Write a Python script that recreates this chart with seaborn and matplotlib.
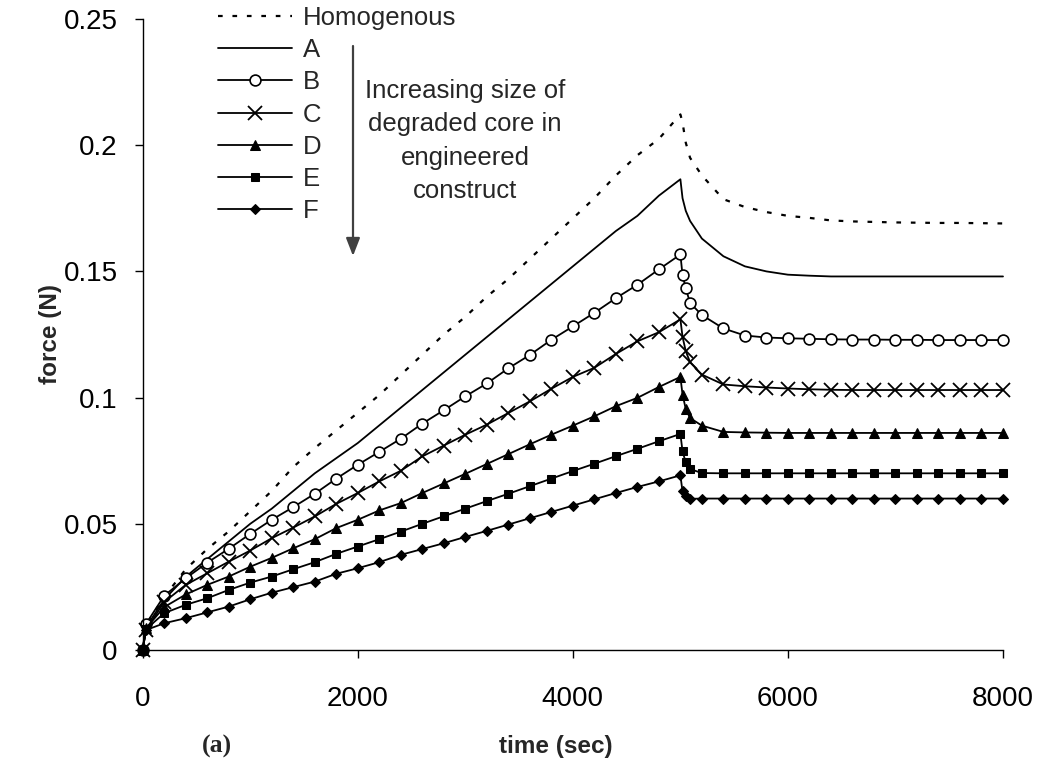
import matplotlib
matplotlib.use("Agg")
import matplotlib.pyplot as plt
import seaborn as sns

# ---------------- data ----------------
time_sec = [0, 30, 200, 400, 600, 800, 1000, 1200, 1400, 1600, 1800, 2000, 2200, 2400, 2600,
            2800, 3000, 3200, 3400, 3600, 3800, 4000, 4200, 4400, 4600, 4800, 5000,
            5020, 5050, 5090, 5200, 5400, 5600, 5800, 6000, 6200, 6400, 6600, 6800,
            7000, 7200, 7400, 7600, 7800, 8000]

homogenous = [0, 0.010, 0.021, 0.032, 0.040, 0.047, 0.055, 0.063, 0.0725, 0.080, 0.087, 0.094,
              0.101, 0.109, 0.117, 0.125, 0.132, 0.140, 0.147, 0.155, 0.163, 0.171, 0.179,
              0.188, 0.196, 0.2025, 0.2122,
              0.209, 0.201, 0.195, 0.188, 0.1786, 0.1755, 0.1735, 0.172, 0.1712, 0.1702,
              0.1698, 0.1696, 0.1694, 0.1693, 0.1692, 0.1692, 0.1691, 0.169]

series_a = [0, 0.009, 0.020, 0.029, 0.036, 0.043, 0.050, 0.056, 0.063, 0.070, 0.076, 0.082,
            0.089, 0.096, 0.103, 0.110, 0.117, 0.124, 0.131, 0.138, 0.145, 0.152, 0.159,
            0.166, 0.172, 0.180, 0.1865,
            0.179, 0.174, 0.170, 0.163, 0.156, 0.152, 0.150, 0.1487, 0.1483, 0.148,
            0.148, 0.148, 0.148, 0.148, 0.148, 0.148, 0.148, 0.148]

series_b = [0, 0.0103, 0.0215, 0.0284, 0.0346, 0.0401, 0.0460, 0.0516, 0.0566, 0.0619, 0.0679,
            0.0734, 0.0785, 0.0837, 0.0897, 0.0950, 0.1005, 0.1056, 0.1116, 0.1169, 0.1229,
            0.1282, 0.1336, 0.1394, 0.1447, 0.1508, 0.1567,
            0.1485, 0.1433, 0.1375, 0.1327, 0.1274, 0.1246, 0.1238, 0.1235, 0.1233, 0.1231,
            0.1230, 0.1230, 0.1229, 0.1229, 0.1228, 0.1228, 0.1228, 0.1228]

series_c = [0, 0.008, 0.019, 0.0258, 0.0304, 0.0350, 0.0394, 0.0443, 0.0485, 0.0529, 0.0579,
            0.0622, 0.0668, 0.0710, 0.0767, 0.0810, 0.0853, 0.0893, 0.0939, 0.0985, 0.1035,
            0.1082, 0.1118, 0.1173, 0.1223, 0.1259, 0.1310,
            0.1241, 0.1184, 0.1140, 0.1091, 0.1052, 0.1045, 0.1040, 0.1036, 0.1033, 0.1031,
            0.1030, 0.1030, 0.1030, 0.1030, 0.1030, 0.1030, 0.1030, 0.1030]

series_d = [0, 0.0086, 0.017, 0.022, 0.0258, 0.0291, 0.0330, 0.0365, 0.0403, 0.0439, 0.0483,
            0.0516, 0.0553, 0.0582, 0.0622, 0.0660, 0.0698, 0.0737, 0.0776, 0.0815, 0.0853,
            0.0889, 0.0926, 0.0966, 0.0999, 0.1042, 0.1082,
            0.1012, 0.0955, 0.0919, 0.0889, 0.0864, 0.0862, 0.0861, 0.0860, 0.0860, 0.0860,
            0.0860, 0.0860, 0.0860, 0.0860, 0.0860, 0.0860, 0.0860, 0.0860]

series_e = [0, 0.0082, 0.0146, 0.0179, 0.0205, 0.0238, 0.0267, 0.0291, 0.0320, 0.0348, 0.0381,
            0.0410, 0.0439, 0.0469, 0.0500, 0.0530, 0.0560, 0.0590, 0.0619, 0.0649, 0.0679,
            0.0709, 0.0738, 0.0768, 0.0797, 0.0827, 0.0856,
            0.0787, 0.0743, 0.0717, 0.0701, 0.0700, 0.0700, 0.0700, 0.0700, 0.0700, 0.0700,
            0.0700, 0.0700, 0.0700, 0.0700, 0.0700, 0.0700, 0.0700, 0.0700]

series_f = [0, 0.0079, 0.0106, 0.0126, 0.0149, 0.0172, 0.0201, 0.0227, 0.0249, 0.0271, 0.0302,
            0.0324, 0.0348, 0.0377, 0.0400, 0.0423, 0.0448, 0.0472, 0.0497, 0.0522, 0.0547,
            0.0572, 0.0597, 0.0622, 0.0646, 0.0668, 0.0692,
            0.0628, 0.0611, 0.0599, 0.0600, 0.0600, 0.0600, 0.0600, 0.0600, 0.0600, 0.0600,
            0.0600, 0.0600, 0.0600, 0.0600, 0.0600, 0.0600, 0.0600, 0.0600]

labels = ["Homogenous", "A", "B", "C", "D", "E", "F"]
x_ticks = [0, 2000, 4000, 6000, 8000]
x_tick_labels = ["0", "2000", "4000", "6000", "8000"]
y_ticks = [0, 0.05, 0.1, 0.15, 0.2, 0.25]
y_tick_labels = ["0", "0.05", "0.1", "0.15", "0.2", "0.25"]

# ---------------- style ----------------
sns.set_theme(style="ticks")
plt.rcParams["font.family"] = ["Liberation Sans", "DejaVu Sans"]

W, H = 1042, 767
fig = plt.figure(figsize=(W / 100, H / 100), dpi=100)
ax = fig.add_axes([142.7 / W, 1 - 650 / H, (1003 - 142.7) / W, (650 - 19) / H])

lw = 1.3
common = dict(ax=ax, color="black", linewidth=lw, estimator=None, sort=False, clip_on=False)

sns.lineplot(x=time_sec, y=homogenous, label=labels[0], linestyle=(0, (2.1, 4.4)), linewidth=1.6,
             ax=ax, color="black", estimator=None, sort=False)
sns.lineplot(x=time_sec, y=series_a, label=labels[1], **common)
sns.lineplot(x=time_sec, y=series_b, label=labels[2], marker="o", markersize=7.8,
             markerfacecolor="white", markeredgecolor="black", markeredgewidth=1.2, **common)
sns.lineplot(x=time_sec, y=series_c, label=labels[3], marker="x", markersize=9.5,
             markeredgecolor="black", markeredgewidth=1.3, **common)
sns.lineplot(x=time_sec, y=series_d, label=labels[4], marker="^", markersize=6.8,
             markerfacecolor="black", markeredgecolor="black", **common)
sns.lineplot(x=time_sec, y=series_e, label=labels[5], marker="s", markersize=5.3,
             markerfacecolor="black", markeredgecolor="black", **common)
sns.lineplot(x=time_sec, y=series_f, label=labels[6], marker="D", markersize=5.2,
             markerfacecolor="black", markeredgecolor="black", **common)

ax.set_xlim(0, 8000)
ax.set_ylim(0, 0.25)
ax.set_xticks(x_ticks)
ax.set_xticklabels(x_tick_labels, fontsize=20)
ax.set_yticks(y_ticks)
ax.set_yticklabels(y_tick_labels, fontsize=20)
ax.tick_params(axis="x", direction="out", length=6, width=1, pad=20, colors="black")
ax.tick_params(axis="y", direction="out", length=6, width=1, pad=12, colors="black")
for s in ["top", "right"]:
    ax.spines[s].set_visible(False)
for s in ["left", "bottom"]:
    ax.spines[s].set_color("black")
    ax.spines[s].set_linewidth(1.0)

ax.set_xlabel("")
ax.set_ylabel("")
fig.text(556 / W, 1 - 746 / H, "time (sec)", ha="center", va="center", fontsize=17.5,
         fontweight="bold")
fig.text(50 / W, 1 - 334 / H, "force (N)", ha="center", va="center", rotation=90,
         fontsize=17.5, fontweight="bold")
fig.text(217 / W, 1 - 746 / H, "(a)", ha="center", va="center", fontsize=18.5, fontweight="bold",
         family=["Liberation Serif", "DejaVu Serif"])

handles, labs = ax.get_legend_handles_labels()
leg = ax.legend(handles, labs, loc="upper left", bbox_to_anchor=(218 / W, 1 - 6 / H),
                bbox_transform=fig.transFigure, frameon=False, fontsize=18.5,
                handlelength=2.88, handletextpad=0.43, labelspacing=0.32,
                borderpad=0, borderaxespad=0)

fig.text(465 / W, 1 - 141 / H, "Increasing size of\ndegraded core in\nengineered\nconstruct",
         ha="center", va="center", fontsize=18.5, linespacing=1.5)
ax.annotate("", xy=(353, H - 256), xytext=(353, H - 46), xycoords="figure pixels",
            textcoords="figure pixels",
            arrowprops=dict(arrowstyle="-|>,head_length=0.9,head_width=0.35", color="#404040",
                            lw=1.6, shrinkA=0, shrinkB=0))

fig.savefig("out.png", dpi=100)
